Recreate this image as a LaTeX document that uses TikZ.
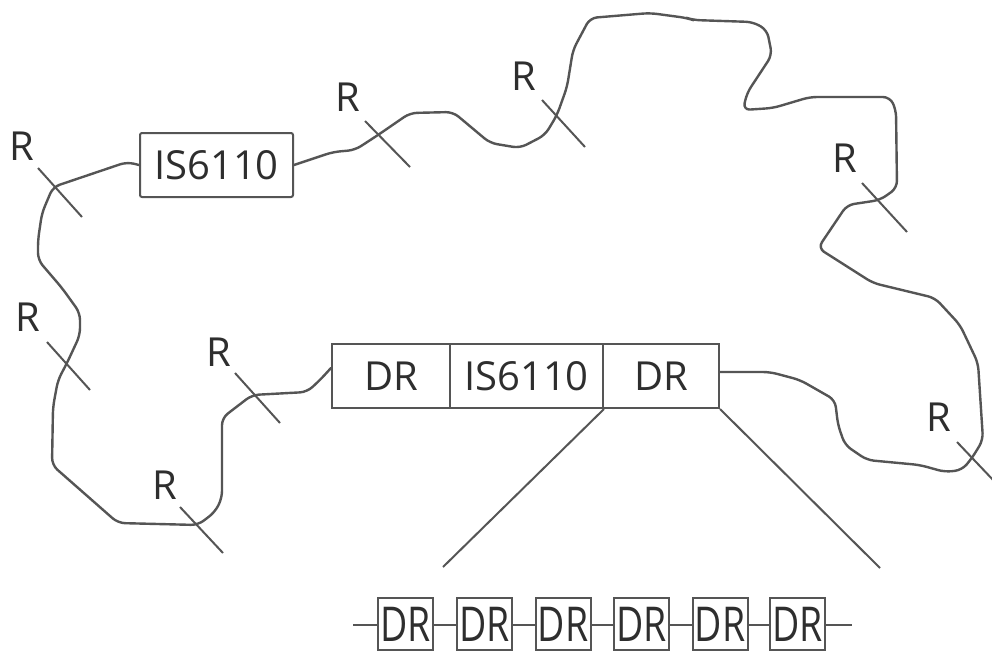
\documentclass[tikz,border=0pt]{standalone}
\usepackage{fontspec}
\setmainfont{Open Sans}
\definecolor{linegray}{HTML}{555555}
\definecolor{txt}{HTML}{2E2E2E}
\begin{document}
\begin{tikzpicture}[x=1pt,y=-1pt,
  strand/.style={draw=linegray,line width=2.4pt,line join=round,line cap=round,rounded corners=7pt},
  tickline/.style={draw=linegray,line width=2pt},
  conn/.style={draw=linegray,line width=2pt},
  lbl/.style={font=\fontsize{40}{48}\selectfont,text=txt,inner sep=0pt},
  bigbox/.style={draw=linegray,line width=2pt,fill=white,inner sep=0pt,minimum height=64pt,font=\fontsize{40}{48}\selectfont,text=txt},
  drbox/.style={draw=linegray,line width=2pt,fill=white,inner sep=0pt,minimum width=55pt,minimum height=52pt,text=txt,font=\fontsize{48}{56}\selectfont}
]
\useasboundingbox[fill=white] (0,0) rectangle (992,651);

% boxes
\node[bigbox,minimum width=153pt,rounded corners=2pt] (isTop) at (216.5,165) {IS6110};
\node[bigbox,minimum width=118pt] (drL) at (391,376) {DR};
\node[bigbox,minimum width=153pt] (isMid) at (526.5,376) {IS6110};
\node[bigbox,minimum width=116pt] (drR) at (661,376) {DR};

% strand: top box east -> around the right -> bottom right DR
\draw[strand] (isTop.east) -- (333,152) -- (355,150) -- (378,135) -- (410,113) -- (453,112)
  -- (490,143) -- (520,148) -- (545,135) -- (557,115) -- (567,87) -- (573,50) -- (590,18)
  -- (650,13) -- (687,18) -- (693,20) -- (753,22) -- (767,30) -- (772,55) -- (747,93) -- (743,110)
  -- (773,108) -- (810,97) -- (890,97) -- (896,110) -- (897,188) -- (880,200) -- (847,205)
  -- (818,248) -- (873,283) -- (935,298) -- (960,325) -- (978,363) -- (983,440) -- (972,458)
  -- (962,470) -- (945,472) -- (920,465) -- (867,460) -- (845,445) -- (838,425) -- (835,400)
  -- (800,380) -- (770,372) -- ([yshift=4pt]drR.east);

% strand: top box west -> around the left -> bottom left DR
\draw[strand] (isTop.west) -- (127,162) -- (53,187) -- (42,213) -- (38,240) -- (38,260)
  -- (62,288) -- (80,313) -- (80,335) -- (67,363) -- (58,380) -- (53,407) -- (52,465)
  -- (118,523) -- (198,525) -- (215,512) -- (222,498) -- (222,418) -- (252,395)
  -- (307,392) -- (320,380) -- ([yshift=8pt]drL.west);

% restriction site ticks
\coordinate (t1a) at (38,168);  \coordinate (t1b) at (82,217);
\coordinate (t2a) at (47,342);  \coordinate (t2b) at (90,390);
\coordinate (t3a) at (180,507); \coordinate (t3b) at (223,553);
\coordinate (t4a) at (235,373); \coordinate (t4b) at (280,423);
\coordinate (t5a) at (365,121); \coordinate (t5b) at (410,167);
\coordinate (t6a) at (542,100); \coordinate (t6b) at (585,147);
\coordinate (t7a) at (862,183); \coordinate (t7b) at (907,232);
\coordinate (t8a) at (957,442); \coordinate (t8b) at (995,482);
\foreach \i in {1,...,8} {\draw[tickline] (t\i a) -- (t\i b);}

% R labels
\node[lbl] (r1) at (22,146) {R};
\node[lbl] (r2) at (28,317) {R};
\node[lbl] (r3) at (165,485) {R};
\node[lbl] (r4) at (219,352) {R};
\node[lbl] (r5) at (348,97) {R};
\node[lbl] (r6) at (524,76) {R};
\node[lbl] (r7) at (845,158) {R};
\node[lbl] (r8) at (939,417) {R};

% expansion lines
\coordinate (eL) at (443,567);
\coordinate (eR) at (880,568);
\draw[conn] (isMid.south east) -- (eL);
\draw[conn] (drR.south east) -- (eR);

% DR repeat row
\coordinate (rowL) at (353,625);
\coordinate (rowR) at (852,625);
\draw[conn] (rowL) -- (rowR);
\foreach \n/\x in {1/405.5,2/484.5,3/563,4/641.5,5/720,6/797.5} {
  \node[drbox] (b\n) at (\x,624) {\scalebox{0.78}[1]{DR}};
}
\end{tikzpicture}
\end{document}
